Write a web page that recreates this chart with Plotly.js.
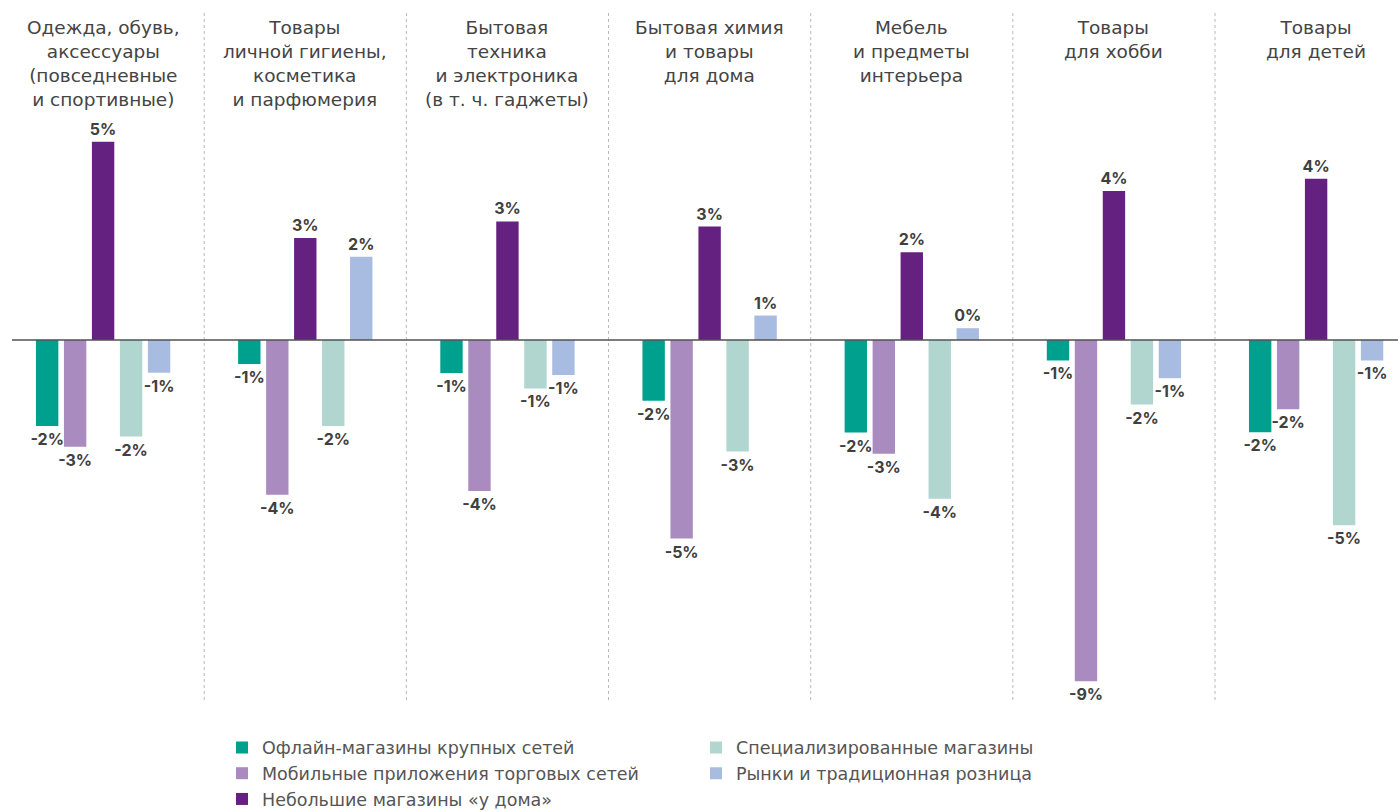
<!DOCTYPE html>
<html>
<head>
<meta charset="utf-8">
<script src="https://cdn.plot.ly/plotly-3.0.1.min.js"></script>
<style>
  html, body { margin: 0; padding: 0; background: #fff; }
  #chart { width: 1398px; height: 812px; }
</style>
</head>
<body>
<div id="chart"></div>
<script>
// categories (group titles)
var categories = [
    'Одежда, обувь,<br>аксессуары<br>(повседневные<br>и спортивные)',
    'Товары<br>личной гигиены,<br>косметика<br>и парфюмерия',
    'Бытовая<br>техника<br>и электроника<br>(в т. ч. гаджеты)',
    'Бытовая химия<br>и товары<br>для дома',
    'Мебель<br>и предметы<br>интерьера',
    'Товары<br>для хобби',
    'Товары<br>для детей'
];

var seriesNames = [
    'Офлайн-магазины крупных сетей',
    'Мобильные приложения торговых сетей',
    'Небольшие магазины «у дома»',
    'Специализированные магазины',
    'Рынки и традиционная розница'
];

// values, %
var offline = [-2.18, -0.61, -0.84, -1.54, -2.35, -0.52, -2.34];
var mobile = [-2.71, -3.93, -3.83, -5.04, -2.89, -8.66, -1.76];
var nearHome = [5.03, 2.59, 3.01, 2.88, 2.23, 3.78, 4.09];
var special = [-2.45, -2.18, -1.23, -2.83, -4.03, -1.64, -4.70];
var markets = [-0.83, 2.11, -0.89, 0.62, 0.30, -0.97, -0.52];

var colors = ['#00a08e', '#aa8bbf', '#65217f', '#b1d5cf', '#a8bbe0'];
var legends = ['legend', 'legend', 'legend', 'legend2', 'legend2'];

function fmt(v) {
    var r = Math.round(v);
    return (r === 0 ? 0 : r) + '%';
}

var series = [offline, mobile, nearHome, special, markets];
var data = series.map(function (vals, i) {
    return {
        x: categories,
        y: vals,
        type: 'bar',
        name: seriesNames[i],
        legend: legends[i],
        marker: { color: colors[i] },
        text: vals.map(fmt),
        textposition: 'outside',
        constraintext: 'none',
        cliponaxis: false,
        textfont: { family: 'Inter, sans-serif', size: 16, color: '#404040', weight: 'bold' },
        hoverinfo: 'none'
    };
});

var shapes = [{
    type: 'line', xref: 'paper', yref: 'y',
    x0: 12 / 1398, x1: 1, y0: 0, y1: 0,
    line: { color: '#505050', width: 1.5 },
    layer: 'above'
}];
for (var i = 0; i < categories.length - 1; i++) {
    shapes.push({
        type: 'line', xref: 'x', yref: 'paper',
        x0: i + 0.5, x1: i + 0.5, y0: 0, y1: 1.186,
        line: { color: '#b8b8b8', width: 1, dash: 'dot' },
        layer: 'below'
    });
}

var titleFont = { family: 'DejaVu Sans, sans-serif', size: 18.5, color: '#444444' };
var annotations = categories.map(function (c) {
    return {
        x: c, xref: 'x', y: 1.181, yref: 'paper',
        yanchor: 'top', xanchor: 'center',
        text: c, showarrow: false,
        font: titleFont
    };
});

var legendFont = { family: 'DejaVu Sans, sans-serif', size: 17.5, color: '#555555' };

var layout = {
    width: 1398,
    height: 812,
    autosize: false,
    paper_bgcolor: '#ffffff',
    plot_bgcolor: '#ffffff',
    margin: { l: 0, r: 0, t: 120, b: 112, autoexpand: false },
    barmode: 'group',
    bargap: 0.308,
    bargroupgap: 0.2,
    showlegend: true,
    xaxis: {
        type: 'category',
        range: [-0.51, 6.405],
        showticklabels: false,
        showgrid: false,
        zeroline: false,
        showline: false,
        ticks: ''
    },
    yaxis: {
        range: [-9.137, 5.584],
        showticklabels: false,
        showgrid: false,
        zeroline: false,
        showline: false,
        ticks: ''
    },
    legend: {
        x: 222 / 1398, xanchor: 'left',
        y: -0.051, yanchor: 'top',
        orientation: 'v',
        font: legendFont,
        bgcolor: 'rgba(0,0,0,0)'
    },
    legend2: {
        x: 696 / 1398, xanchor: 'left',
        y: -0.051, yanchor: 'top',
        orientation: 'v',
        font: legendFont,
        bgcolor: 'rgba(0,0,0,0)'
    },
    shapes: shapes,
    annotations: annotations
};

Plotly.newPlot(document.getElementById('chart'), data, layout, { displayModeBar: false, staticPlot: true });
</script>
</body>
</html>
